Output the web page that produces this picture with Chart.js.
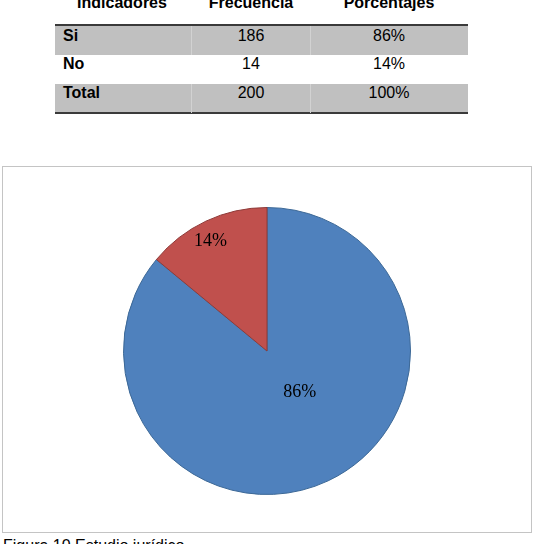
<!DOCTYPE html>
<html>
<head>
<meta charset="utf-8">
<script src="https://cdn.jsdelivr.net/npm/chart.js@4/dist/chart.umd.min.js"></script>
<style>
  body { margin: 0; width: 536px; height: 544px; overflow: hidden; background: #fff; position: relative; font-family: "Liberation Sans", Arial, sans-serif; }
  .t { position: absolute; font-size: 16px; line-height: 16px; color: #000; white-space: nowrap; }
  .b { font-weight: bold; }
  .c { transform: translateX(-50%); }
  .row { position: absolute; left: 55px; width: 413px; height: 29px; }
  .gray { background: #c0c0c0; }
  .hline { position: absolute; left: 55px; width: 413px; height: 2px; background: #3a3a3a; }
  .vline { position: absolute; width: 1px; background: #d2d2d2; height: 29px; }
  #box { position: absolute; left: 2px; top: 166px; width: 528px; height: 365px; border: 1px solid #c4c4c4; }
</style>
</head>
<body>
<script>
// table + chart data
const headers = ['Indicadores', 'Frecuencia', 'Porcentajes'];
const indicadores = ['Si', 'No', 'Total'];
const frecuencia = ['186', '14', '200'];
const porcentajes = ['86%', '14%', '100%'];

const labels = ['Si', 'No'];
const values = [86, 14];
const sliceText = ['86%', '14%'];
</script>

<div class="row gray" style="top:26px"></div>
<div class="row" style="top:55px"></div>
<div class="row gray" style="top:84px"></div>
<div class="hline" style="top:24px"></div>
<div class="hline" style="top:112px"></div>
<div class="vline" style="left:191px; top:26px"></div>
<div class="vline" style="left:310px; top:26px"></div>
<div class="vline" style="left:191px; top:84px"></div>
<div class="vline" style="left:310px; top:84px"></div>
<div id="cells"></div>

<div id="box"><canvas id="pie" width="528" height="365"></canvas></div>
<div class="t" style="left:3px; top:538px">Figura 10 Estudio jurídico</div>

<script>
const cells = document.getElementById('cells');
const colX = [null, 251, 389];
const headX = [122, 251, 389];
function addText(txt, x, y, bold, centered) {
  const d = document.createElement('div');
  d.className = 't' + (bold ? ' b' : '') + (centered ? ' c' : '');
  d.style.left = x + 'px';
  d.style.top = y + 'px';
  d.textContent = txt;
  cells.appendChild(d);
}
headers.forEach((h, i) => addText(h, headX[i], -5, true, true));
const rowTop = [28, 56, 85];
indicadores.forEach((name, i) => {
  addText(name, 63, rowTop[i], true, false);
  addText(frecuencia[i], colX[1], rowTop[i], false, true);
  addText(porcentajes[i], colX[2], rowTop[i], false, true);
});

// draws the percentage text inside each slice
const sliceLabels = {
  id: 'sliceLabels',
  afterDatasetsDraw(chart, args, opts) {
    const ctx = chart.ctx;
    const arcs = chart.getDatasetMeta(0).data;
    ctx.save();
    ctx.font = '18px "Liberation Serif", "Times New Roman", serif';
    ctx.fillStyle = '#000';
    ctx.textAlign = 'center';
    ctx.textBaseline = 'middle';
    arcs.forEach((arc, i) => {
      const p = arc.getProps(['x', 'y', 'startAngle', 'endAngle', 'outerRadius'], true);
      const mid = (p.startAngle + p.endAngle) / 2 + opts.shift[i] * Math.PI / 180;
      const r = p.outerRadius * opts.radius[i];
      ctx.fillText(sliceText[i], p.x + Math.cos(mid) * r, p.y + Math.sin(mid) * r);
    });
    ctx.restore();
  }
};

new Chart(document.getElementById('pie'), {
  type: 'pie',
  data: {
    labels: labels,
    datasets: [{
      data: values,
      backgroundColor: ['#4f81bd', '#c0504d'],
      borderColor: ['#3c6896', '#8e3a38'],
      borderWidth: 1
    }]
  },
  options: {
    responsive: false,
    animation: false,
    layout: { padding: { left: 0, right: 0, top: 40, bottom: 37 } },
    plugins: {
      legend: { display: false },
      tooltip: { enabled: false },
      sliceLabels: { radius: [0.37, 0.86], shift: [-13, -2] }
    }
  },
  plugins: [sliceLabels]
});
</script>
</body>
</html>
